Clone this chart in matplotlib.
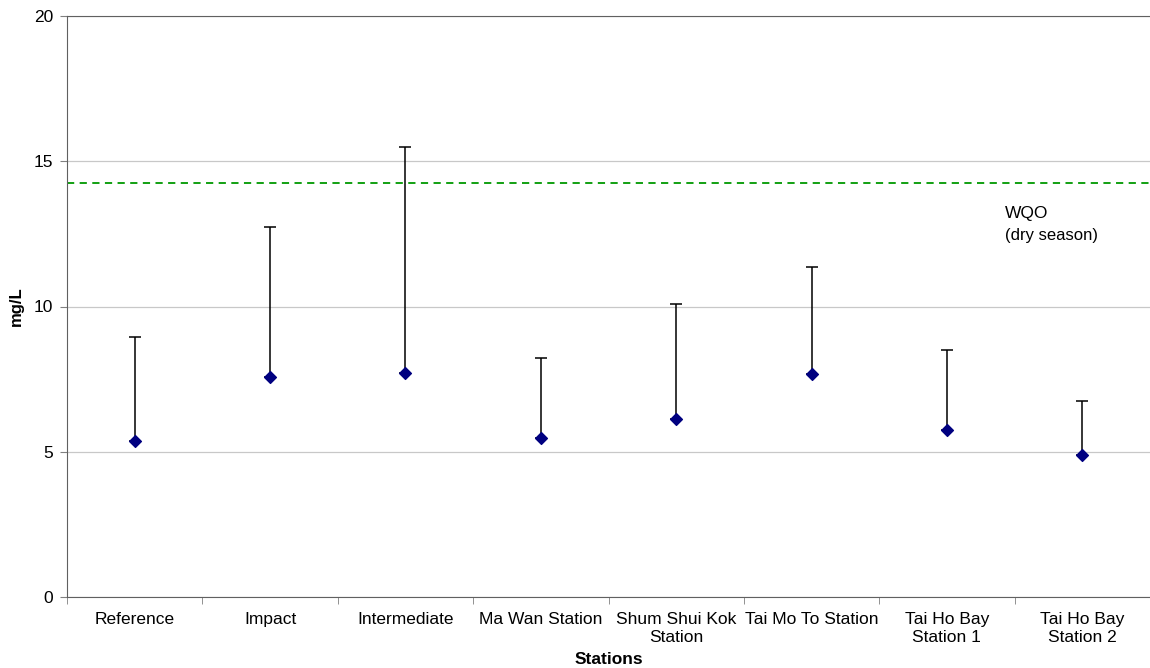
import matplotlib
matplotlib.use("Agg")
import matplotlib.pyplot as plt
import numpy as np

plt.rcParams['font.family'] = ['Liberation Sans', 'DejaVu Sans']

stations = ["Reference", "Impact", "Intermediate", "Ma Wan Station",
            "Shum Shui Kok\nStation", "Tai Mo To Station",
            "Tai Ho Bay\nStation 1", "Tai Ho Bay\nStation 2"]
mean_vals = [5.37, 7.57, 7.71, 5.47, 6.13, 7.68, 5.75, 4.89]
upper_vals = [8.95, 12.74, 15.49, 8.23, 10.09, 11.36, 8.50, 6.75]
wqo = 14.25
y_ticks = [0, 5, 10, 15, 20]

fig = plt.figure(figsize=(11.5, 6.68), dpi=100)
ax = fig.add_axes([67/1150, 1-597/668, (1150-67)/1150, (597-16)/668])

x = np.arange(len(stations))
upper_err = np.array(upper_vals) - np.array(mean_vals)
ax.errorbar(x, mean_vals, yerr=[np.zeros(len(x)), upper_err], fmt='none',
            ecolor='black', elinewidth=1.1, capsize=4, capthick=1.1, zorder=3)
ax.scatter(x, mean_vals, marker='D', s=36, color='#000080', zorder=4)

ax.axhline(wqo, color='#009900', linestyle=(0, (4, 3)), linewidth=1.3, zorder=2)
ax.text(6.43, 12.95, "WQO", fontsize=12.5, va='bottom', ha='left')
ax.text(6.43, 12.2, "(dry season)", fontsize=12, va='bottom', ha='left')

ax.set_xlim(-0.5, len(stations) - 0.5)
ax.set_ylim(0, 20)
ax.set_yticks(y_ticks)
ax.set_yticklabels([str(t) for t in y_ticks], fontsize=12.5)
ax.yaxis.grid(True, color='#c8c8c8', linewidth=0.9)
ax.set_axisbelow(True)

ax.set_xticks(x)
ax.set_xticklabels(stations, fontsize=12.5, linespacing=1.2)
ax.set_xticks(np.arange(len(stations) + 1) - 0.5, minor=True)
ax.tick_params(axis='x', which='major', length=0, pad=11)
ax.tick_params(axis='x', which='minor', length=5, color='#808080', direction='out')
ax.tick_params(axis='y', length=5, color='#808080', direction='out', pad=5)

ax.spines['right'].set_visible(False)
ax.spines['top'].set_color('#606060')
ax.spines['left'].set_color('#606060')
ax.spines['bottom'].set_color('#606060')

ax.set_ylabel("mg/L", fontsize=12, fontweight='bold', labelpad=7)
ax.set_xlabel("Stations", fontsize=12.5, fontweight='bold', labelpad=5)

fig.savefig("out.png", dpi=100)
